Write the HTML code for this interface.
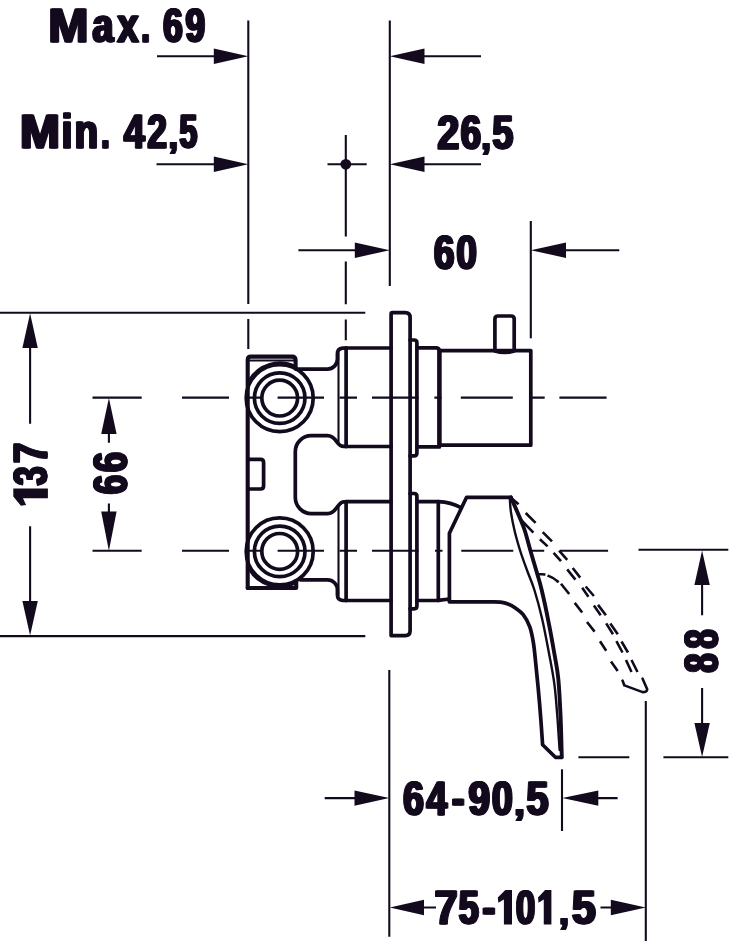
<!DOCTYPE html>
<html>
<head>
<meta charset="utf-8">
<title>Dimension drawing</title>
<style>
html,body{margin:0;padding:0;background:#fff;}
body{width:731px;height:941px;overflow:hidden;font-family:"Liberation Sans",sans-serif;}
svg{display:block;}
.t{stroke:#130a1e;stroke-width:2.1;fill:none;}
.m{stroke:#130a1e;stroke-width:2.1;fill:none;stroke-linecap:round;stroke-linejoin:round;}
.k{stroke:#130a1e;stroke-width:3.7;fill:none;stroke-linecap:round;stroke-linejoin:round;}
.a{fill:#130a1e;stroke:none;}
text{font-family:"Liberation Sans",sans-serif;font-weight:bold;fill:#130a1e;font-size:48.5px;}
</style>
</head>
<body>
<svg width="731" height="941" viewBox="0 0 731 941">
<rect x="0" y="0" width="731" height="941" fill="#ffffff"/>

<!-- ===== DIMENSION / EXTENSION LINES ===== -->
<g class="t" id="dims">
  <!-- vertical extension lines top -->
  <path d="M248.3 20.5V304 M248.3 319V349"/>
  <path d="M389.8 20.5V286"/>
  <path d="M530.8 221V338.3"/>
  <!-- cross mark centre line -->
  <path d="M345.8 135V236.5 M345.8 261.5V304.3 M345.8 319.5V340.3"/>
  <path d="M327.5 164.3H366.7"/>
  <!-- Max / Min arrows shafts -->
  <path d="M157 56.2H215 M156.5 164.3H215"/>
  <path d="M423 56.2H481 M423 164.3H481"/>
  <!-- 60 -->
  <path d="M298.4 250.2H356 M565 250.2H619.3"/>
  <!-- 137 -->
  <path d="M0 312.7H365.3 M0 636.1H365.3"/>
  <path d="M30.1 346V423.7 M30.1 526.2V603"/>
  <!-- 66 -->
  <path d="M92.5 397.6H141.7 M92.5 550.7H141.7"/>
  <path d="M108.9 432V442.8 M108.9 503.4V513"/>
  <!-- 88 -->
  <path d="M638.5 549.8H728.3 M663.4 757.3H728.3 M578.4 757.3H629.3"/>
  <path d="M702.1 583V615.3 M702.1 688V725"/>
  <!-- bottom verticals -->
  <path d="M389.3 670V936.8"/>
  <path d="M562 769.3V831"/>
  <path d="M645.8 701V941"/>
  <!-- bottom arrow shafts -->
  <path d="M324.7 798.1H356 M597 798.1H617.6"/>
  <path d="M422 907.5H436 M600.5 907.5H612"/>
</g>

<!-- ===== ARROW HEADS ===== -->
<g class="a" id="arrows">
  <!-- right-pointing -->
  <path d="M248.3 56.2L213.8 48.5V63.9Z"/>
  <path d="M248.3 164.3L213.8 156.6V172.0Z"/>
  <path d="M389.8 250.2L354.8 242.5V257.9Z"/>
  <path d="M389.3 798.1L354.5 790.4V805.8Z"/>
  <path d="M645.8 907.5L610.8 899.8V915.2Z"/>
  <!-- left-pointing -->
  <path d="M389.8 56.2L424.5 48.5V63.9Z"/>
  <path d="M389.8 164.3L424.5 156.6V172.0Z"/>
  <path d="M530.8 250.2L566.0 242.5V257.9Z"/>
  <path d="M562.3 798.1L598.3 790.4V805.8Z"/>
  <path d="M389.8 907.5L424.0 899.8V915.2Z"/>
  <!-- up-pointing -->
  <path d="M30.1 313.2L22.4 348.0H37.8Z"/>
  <path d="M108.9 398.1L101.2 434.0H116.6Z"/>
  <path d="M702.1 550.4L694.4 585.0H709.8Z"/>
  <!-- down-pointing -->
  <path d="M30.1 635.6L22.4 601.0H37.8Z"/>
  <path d="M108.9 550.7L101.2 511.6H116.6Z"/>
  <path d="M702.1 756.9L694.4 723.0H709.8Z"/>
  <!-- cross dot -->
  <circle cx="345.8" cy="164.3" r="5.4"/>
</g>

<!-- ===== TEXT ===== -->
<!--LABELS-->
<g id="labels" opacity="0.999" style="font-size:48.5px;stroke:#130a1e;stroke-width:1.2;stroke-linejoin:round">
<text transform="translate(47.57 41.90) scale(0.9914 1)">M</text>
<text transform="translate(48.47 41.90) scale(0.9914 1)">M</text>
<text transform="translate(49.37 41.90) scale(0.9914 1)">M</text>
<text transform="translate(91.62 41.90) scale(0.7743 1)">a</text>
<text transform="translate(92.52 41.90) scale(0.7743 1)">a</text>
<text transform="translate(93.42 41.90) scale(0.7743 1)">a</text>
<text transform="translate(116.50 41.90) scale(0.7855 1)">x</text>
<text transform="translate(117.40 41.90) scale(0.7855 1)">x</text>
<text transform="translate(118.30 41.90) scale(0.7855 1)">x</text>
<text transform="translate(140.45 41.90) scale(0.6375 1)">.</text>
<text transform="translate(141.35 41.90) scale(0.6375 1)">.</text>
<text transform="translate(142.25 41.90) scale(0.6375 1)">.</text>
<text transform="translate(162.19 41.90) scale(0.7306 1)">6</text>
<text transform="translate(163.09 41.90) scale(0.7306 1)">6</text>
<text transform="translate(163.99 41.90) scale(0.7306 1)">6</text>
<text transform="translate(184.58 41.90) scale(0.7232 1)">9</text>
<text transform="translate(185.48 41.90) scale(0.7232 1)">9</text>
<text transform="translate(186.38 41.90) scale(0.7232 1)">9</text>
<text transform="translate(19.08 148.40) scale(0.9886 1)">M</text>
<text transform="translate(19.98 148.40) scale(0.9886 1)">M</text>
<text transform="translate(20.88 148.40) scale(0.9886 1)">M</text>
<text transform="translate(60.70 148.40) scale(0.8000 1)">i</text>
<text transform="translate(61.60 148.40) scale(0.8000 1)">i</text>
<text transform="translate(62.50 148.40) scale(0.8000 1)">i</text>
<text transform="translate(73.72 148.40) scale(0.7919 1)">n</text>
<text transform="translate(74.62 148.40) scale(0.7919 1)">n</text>
<text transform="translate(75.52 148.40) scale(0.7919 1)">n</text>
<text transform="translate(100.28 148.40) scale(0.6250 1)">.</text>
<text transform="translate(101.18 148.40) scale(0.6250 1)">.</text>
<text transform="translate(102.08 148.40) scale(0.6250 1)">.</text>
<text transform="translate(122.91 148.40) scale(0.7741 1)">4</text>
<text transform="translate(123.81 148.40) scale(0.7741 1)">4</text>
<text transform="translate(124.71 148.40) scale(0.7741 1)">4</text>
<text transform="translate(146.38 148.40) scale(0.7232 1)">2</text>
<text transform="translate(147.28 148.40) scale(0.7232 1)">2</text>
<text transform="translate(148.18 148.40) scale(0.7232 1)">2</text>
<text transform="translate(167.67 148.40) scale(0.7000 0.78)">,</text>
<text transform="translate(168.57 148.40) scale(0.7000 0.78)">,</text>
<text transform="translate(169.47 148.40) scale(0.7000 0.78)">,</text>
<text transform="translate(178.53 148.40) scale(0.6653 1)">5</text>
<text transform="translate(179.43 148.40) scale(0.6653 1)">5</text>
<text transform="translate(180.33 148.40) scale(0.6653 1)">5</text>
<text transform="translate(436.39 148.80) scale(0.8121 1)">2</text>
<text transform="translate(437.29 148.80) scale(0.8121 1)">2</text>
<text transform="translate(438.19 148.80) scale(0.8121 1)">2</text>
<text transform="translate(459.75 148.80) scale(0.7592 1)">6</text>
<text transform="translate(460.65 148.80) scale(0.7592 1)">6</text>
<text transform="translate(461.55 148.80) scale(0.7592 1)">6</text>
<text transform="translate(480.47 148.80) scale(0.7000 0.78)">,</text>
<text transform="translate(481.37 148.80) scale(0.7000 0.78)">,</text>
<text transform="translate(482.27 148.80) scale(0.7000 0.78)">,</text>
<text transform="translate(491.42 148.80) scale(0.7762 1)">5</text>
<text transform="translate(492.32 148.80) scale(0.7762 1)">5</text>
<text transform="translate(493.22 148.80) scale(0.7762 1)">5</text>
<text transform="translate(433.05 268.90) scale(0.7633 1)">6</text>
<text transform="translate(433.95 268.90) scale(0.7633 1)">6</text>
<text transform="translate(434.85 268.90) scale(0.7633 1)">6</text>
<text transform="translate(455.45 268.90) scale(0.7588 1)">0</text>
<text transform="translate(456.35 268.90) scale(0.7588 1)">0</text>
<text transform="translate(457.25 268.90) scale(0.7588 1)">0</text>
<text transform="translate(402.24 815.00) scale(0.7714 1)">6</text>
<text transform="translate(403.14 815.00) scale(0.7714 1)">6</text>
<text transform="translate(404.04 815.00) scale(0.7714 1)">6</text>
<text transform="translate(425.41 815.00) scale(0.7741 1)">4</text>
<text transform="translate(426.31 815.00) scale(0.7741 1)">4</text>
<text transform="translate(427.21 815.00) scale(0.7741 1)">4</text>
<text transform="translate(450.92 815.00) scale(0.7852 1)">-</text>
<text transform="translate(451.82 815.00) scale(0.7852 1)">-</text>
<text transform="translate(452.72 815.00) scale(0.7852 1)">-</text>
<text transform="translate(467.60 815.00) scale(0.7960 1)">9</text>
<text transform="translate(468.50 815.00) scale(0.7960 1)">9</text>
<text transform="translate(469.40 815.00) scale(0.7960 1)">9</text>
<text transform="translate(491.03 815.00) scale(0.7753 1)">0</text>
<text transform="translate(491.93 815.00) scale(0.7753 1)">0</text>
<text transform="translate(492.83 815.00) scale(0.7753 1)">0</text>
<text transform="translate(513.20 815.00) scale(0.8000 0.78)">,</text>
<text transform="translate(514.10 815.00) scale(0.8000 0.78)">,</text>
<text transform="translate(515.00 815.00) scale(0.8000 0.78)">,</text>
<text transform="translate(525.38 815.00) scale(0.8238 1)">5</text>
<text transform="translate(526.28 815.00) scale(0.8238 1)">5</text>
<text transform="translate(527.18 815.00) scale(0.8238 1)">5</text>
<text transform="translate(433.72 924.00) scale(0.8542 1)">7</text>
<text transform="translate(434.62 924.00) scale(0.8542 1)">7</text>
<text transform="translate(435.52 924.00) scale(0.8542 1)">7</text>
<text transform="translate(457.86 924.00) scale(0.7446 1)">5</text>
<text transform="translate(458.76 924.00) scale(0.7446 1)">5</text>
<text transform="translate(459.66 924.00) scale(0.7446 1)">5</text>
<text transform="translate(481.49 924.00) scale(0.8074 1)">-</text>
<text transform="translate(482.39 924.00) scale(0.8074 1)">-</text>
<text transform="translate(483.29 924.00) scale(0.8074 1)">-</text>
<text transform="translate(514.90 924.00) scale(0.7175 1)">0</text>
<text transform="translate(515.80 924.00) scale(0.7175 1)">0</text>
<text transform="translate(516.70 924.00) scale(0.7175 1)">0</text>
<text transform="translate(558.21 924.00) scale(0.7250 0.78)">,</text>
<text transform="translate(559.11 924.00) scale(0.7250 0.78)">,</text>
<text transform="translate(560.01 924.00) scale(0.7250 0.78)">,</text>
<text transform="translate(571.12 924.00) scale(0.8792 1)">5</text>
<text transform="translate(572.02 924.00) scale(0.8792 1)">5</text>
<text transform="translate(572.92 924.00) scale(0.8792 1)">5</text>
<text transform="translate(47.40 484.45) rotate(-90) scale(0.7010 1)">3</text>
<text transform="translate(47.40 485.35) rotate(-90) scale(0.7010 1)">3</text>
<text transform="translate(47.40 486.25) rotate(-90) scale(0.7010 1)">3</text>
<text transform="translate(47.40 461.91) rotate(-90) scale(0.7417 1)">7</text>
<text transform="translate(47.40 462.81) rotate(-90) scale(0.7417 1)">7</text>
<text transform="translate(47.40 463.71) rotate(-90) scale(0.7417 1)">7</text>
<text transform="translate(126.50 493.29) rotate(-90) scale(0.7102 1)">6</text>
<text transform="translate(126.50 494.19) rotate(-90) scale(0.7102 1)">6</text>
<text transform="translate(126.50 495.09) rotate(-90) scale(0.7102 1)">6</text>
<text transform="translate(126.50 471.23) rotate(-90) scale(0.7469 1)">6</text>
<text transform="translate(126.50 472.13) rotate(-90) scale(0.7469 1)">6</text>
<text transform="translate(126.50 473.03) rotate(-90) scale(0.7469 1)">6</text>
<text transform="translate(718.40 671.60) rotate(-90) scale(0.7040 1)">8</text>
<text transform="translate(718.40 672.50) rotate(-90) scale(0.7040 1)">8</text>
<text transform="translate(718.40 673.40) rotate(-90) scale(0.7040 1)">8</text>
<text transform="translate(718.40 647.71) rotate(-90) scale(0.7120 1)">8</text>
<text transform="translate(718.40 648.61) rotate(-90) scale(0.7120 1)">8</text>
<text transform="translate(718.40 649.51) rotate(-90) scale(0.7120 1)">8</text>
<g style="stroke:none;fill:#130a1e"><path d="M505.33 889.90L512.00 889.90L512.00 924.50L503.91 924.50L503.91 899.59L498.37 902.70L497.80 897.51Z"/>
<path d="M545.10 889.90L551.40 889.90L551.40 924.50L543.76 924.50L543.76 899.59L538.54 902.70L538.00 897.51Z"/>
<path d="M13.30 496.53L13.30 488.40L47.90 488.40L47.90 498.26L22.99 498.26L26.10 505.01L20.91 505.70Z"/></g>
</g>
<!--/LABELS-->

<!-- ===== CENTRE LINES ===== -->
<g class="t" id="centre">
  <path d="M182 397.6H229 M246 397.6H263 M277.6 397.6H324 M339.5 397.6H357 M372 397.6H418.5 M434.4 397.6H441.5 M460.8 397.6H512.8 M531 397.6H544.7 M559.4 397.6H606.6"/>
  <path d="M182 550.7H229 M246 550.7H263 M277.6 550.7H324 M339.5 550.7H357 M372 550.7H418.5 M435 550.7H442.5 M461.3 550.7H513.3 M531.6 550.7H544.2 M560 550.7H608.1"/>
</g>

<!-- ===== BODY ===== -->
<g id="body">
<g class="k" style="stroke-width:3.7">
<circle cx="279.7" cy="398.1" r="33.5"/>
<circle cx="279.7" cy="398.1" r="25.3"/>
<circle cx="279.7" cy="398.1" r="17.9"/>
<circle cx="279.7" cy="551.4" r="33.5"/>
<circle cx="279.7" cy="551.4" r="25.3"/>
<circle cx="279.7" cy="551.4" r="17.9"/>
</g>
<path class="k" style="stroke-width:4.1" d="M247.7 588V359.8Q247.7 356.6 251 356.6H292Q295.6 356.6 295.6 360.2V368"/>
<path class="k" style="stroke-width:4.1" d="M247.7 588H296.2V581"/>
<path class="m" d="M250 360.5H295"/>
<path class="k" style="stroke-width:3" d="M249.2 380.5A35.2 35.2 0 0 1 295.6 366.7"/>
<path class="k" style="stroke-width:3" d="M249.2 569A35.2 35.2 0 0 0 296.2 582.5"/>
<path class="k" d="M249 459.4H260.5Q263.6 459.4 263.6 462.5V486Q263.6 489 260.5 489H249"/>
<path class="k" d="M295.8 369.1H327.4C333 369.1 337.4 364.6 337.4 359V354C337.4 350.6 339.5 348.5 342.5 348.2L346 348"/>
<path class="k" d="M300.5 579.8H327.4C333 579.8 337.4 584.3 337.4 589.8V594.8C337.4 598.2 339.5 600.2 342.5 600.4L346 600.5"/>
<path class="k" d="M346.3 446.4H343.5C340.5 446.4 338.8 444.5 336.8 441.8C334.5 438.6 332 435.7 327.5 435.7H311.3A16 16 0 0 0 295.3 451.7V497.6A16 16 0 0 0 311.3 513.6H327.5C332 513.6 334.5 510.8 336.8 507.6C338.8 504.8 340.5 502 343.5 501.8H346.3"/>
<path class="m" d="M338.5 353V443.5 M338.5 504.5V595.5"/>
<path class="k" d="M346.1 348V446.5 M346.1 501.6V600.5"/>
<path class="k" d="M346.1 348H391.2 M346.1 446.5H391.2 M346.1 501.6H391.2 M346.1 600.5H391.2"/>
<path class="k" d="M391.1 635.6V314Q391.1 312.7 392.4 312.7H405.2Q410.1 312.7 410.1 317.6V630.8Q410.1 635.6 405.3 635.6Z"/>
<path class="k" d="M410 340H414.1Q416.9 340 416.9 342.8V453Q416.9 455.9 414.1 455.9H410"/>
<path class="k" d="M410 493.5H414.1Q416.9 493.5 416.9 496.3V606Q416.9 608.8 414.1 608.8H410"/>
<path class="k" d="M416.9 347.8H436.5Q439 348.2 439.4 350.5V446.9H416.9"/>
<path class="k" d="M416.9 501.7H438.3V600.5H416.9"/>
<path class="k" style="stroke-width:4.4" d="M439.4 351V445.3"/>
<path class="k" d="M439.6 350.6H530.8V445.2H439.6"/>
<path class="k" d="M494.9 351V319.2Q494.9 316 498.1 316H511Q514.2 316 514.2 319.2V351Q504.6 354 494.9 351Z" fill="#fff"/>
<path class="k" d="M438.3 501.7Q451 502.3 461 507.6"/>
<path class="k" d="M510.9 497.3H466.6L449.4 533.2V601"/>
<path class="k" d="M438.3 600.4L449.4 599"/>
<path class="k" d="M449.4 601.8C452.8 601.8 463.2 601.9 470.0 601.9C476.8 601.9 484.9 601.8 490.0 601.9C495.1 602.0 497.5 601.9 500.5 602.2C503.5 602.6 505.6 603.1 508.0 604.0C510.4 604.9 512.5 605.9 515.0 607.7C517.5 609.5 520.7 611.4 523.2 614.6C525.7 617.8 528.1 622.1 529.8 626.9C531.5 631.7 532.6 637.9 533.5 643.4C534.4 648.9 534.6 652.5 535.4 660.0C536.2 667.5 537.2 677.8 538.2 688.3C539.2 698.8 540.4 713.4 541.1 722.8C541.8 732.2 542.4 741.1 542.6 744.8L555.4 757.3H561.5"/>
<path class="k" style="stroke-width:3.9" d="M510.9 497.4C512.4 500.7 517.4 512.0 519.7 517.4C522.0 522.8 522.8 524.5 524.6 530.0C526.4 535.5 528.4 543.4 530.4 550.5C532.4 557.6 535.0 566.1 536.9 572.7C538.8 579.3 539.7 581.6 541.7 590.0C543.7 598.4 546.6 612.0 548.7 622.8C550.9 633.6 553.0 645.7 554.6 655.0C556.2 664.3 557.3 668.4 558.3 678.7C559.3 689.0 560.0 703.9 560.6 717.0C561.2 730.1 561.6 750.6 561.8 757.3"/>
<path class="m" style="stroke-width:2.4" d="M509.8 498.2C510.0 500.5 510.1 506.6 510.9 511.9C511.7 517.2 512.9 523.6 514.4 530.0C515.9 536.4 518.0 543.7 520.1 550.5C522.2 557.3 524.9 564.4 527.3 571.0C529.7 577.6 531.9 582.0 534.4 590.0C536.9 598.0 539.5 607.5 542.1 618.7C544.7 629.9 547.6 646.0 549.7 657.0C551.8 668.0 553.2 675.0 554.5 685.0C555.8 695.0 556.5 706.2 557.4 717.0C558.2 727.8 559.2 744.5 559.6 750.0"/>
<path class="k" style="stroke-width:2.6;stroke-linecap:butt" d="M511.5 498.2L518.6 504.2M525.7 513.0L535.6 522.8M542.7 532.1L552.0 541.4M559.1 550.7L567.2 559.8M572.7 568.0L580.2 577.6M585.7 586.5L593.9 596.0M598.0 604.9L605.9 615.2M610.3 623.4L617.8 634.3M621.5 641.5L628.0 652.5M631.5 660.0L637.5 672.0"/>
<path class="k" style="stroke-width:2.6;stroke-linecap:butt" d="M519.7 518.5L533.4 532.7M539.9 539.2L547.6 546.4M553.6 552.9L561.0 561.2M567.2 569.4L575.4 579.6M582.2 587.8L588.4 596.7M593.9 605.6L600.7 615.2M606.2 623.4L613.0 634.3M616.4 641.2L622.5 652.5M626.0 660.0L631.5 672.0"/>
<path class="k" style="stroke-width:2.6;stroke-linecap:butt" d="M538.2 574.4C538.8 574.4 540.8 574.2 542.0 574.2C543.2 574.2 544.8 574.6 545.4 574.7"/>
<path class="k" style="stroke-width:2.6;stroke-linecap:butt" d="M547.6 575.5C548.5 575.9 551.2 576.9 553.0 578.0C554.8 579.1 557.7 581.5 558.6 582.2"/>
<path class="k" style="stroke-width:2.6;stroke-linecap:butt" d="M561.0 583.7L569.2 594.0M574.7 602.9L582.2 612.5M587.0 622.0L594.6 631.6M600.0 641.2L606.2 650.8M611.0 661.5L617.7 671.1"/>
<path class="k" style="stroke-width:2.6" d="M622.5 680.6L624.4 685.4L642.6 692.1Q647 692 647.2 689.3L642.6 678.7"/>
</g>
</svg>
</body>
</html>
